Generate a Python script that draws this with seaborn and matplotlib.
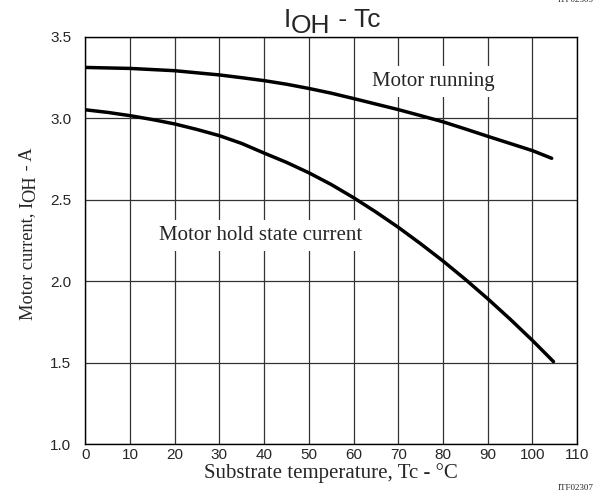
import pandas as pd
import matplotlib
matplotlib.use("Agg")
import matplotlib.pyplot as plt
import seaborn as sns

# -------- DATA --------
temp_running = [0, 10, 15, 20, 25, 30, 35, 40, 45, 50, 55, 60, 65, 70, 75, 80, 85, 90, 95, 100, 104.3]
current_running = [3.313, 3.307, 3.30, 3.293, 3.28, 3.267, 3.25, 3.232, 3.21, 3.184, 3.155, 3.122,
                   3.088, 3.054, 3.017, 2.979, 2.935, 2.89, 2.846, 2.802, 2.755]

temp_hold = [0, 5, 10, 15, 20, 25, 30, 35, 40, 45, 50, 55, 60, 65, 70, 75, 80, 85, 90, 95, 100, 104.7]
current_hold = [3.053, 3.037, 3.017, 2.993, 2.966, 2.932, 2.894, 2.846, 2.787, 2.73, 2.666, 2.594,
                2.513, 2.425, 2.331, 2.23, 2.124, 2.011, 1.892, 1.767, 1.636, 1.506]

x_ticks = list(range(0, 111, 10))
y_ticks = [1.0, 1.5, 2.0, 2.5, 3.0, 3.5]

df = pd.concat([
    pd.DataFrame({"Tc": temp_running, "IOH": current_running, "curve": "Motor running"}),
    pd.DataFrame({"Tc": temp_hold, "IOH": current_hold, "curve": "Motor hold state current"}),
], ignore_index=True)

# -------- PLOT --------
sns.set_style("white")
plt.rcParams["font.family"] = ["Liberation Sans", "DejaVu Sans"]
serif = ["Liberation Serif", "DejaVu Serif"]

fig = plt.figure(figsize=(6, 5), dpi=100)
ax = fig.add_axes([0.142, 0.112, 0.820, 0.814])

sns.lineplot(data=df, x="Tc", y="IOH", hue="curve", palette=["black", "black"],
             linewidth=2.5, legend=False, ax=ax, sort=False)

ax.set_xlim(0, 110)
ax.set_ylim(1.0, 3.5)
ax.set_xticks(x_ticks)
ax.set_yticks(y_ticks)
ax.set_xticklabels([str(t) for t in x_ticks])
ax.set_yticklabels([f"{t:.1f}" for t in y_ticks])
ax.tick_params(length=0, labelsize=11)
ax.tick_params(axis="x", pad=3)
ax.tick_params(axis="y", pad=10)
ax.grid(True, color="#333333", linewidth=0.9)
ax.set_axisbelow(True)
for s in ax.spines.values():
    s.set_color("black")
    s.set_linewidth(1.0)

ax.set_xlabel("Substrate temperature, Tc - °C", family=serif, fontsize=15, labelpad=1)
ax.set_ylabel("")

# Title "I_OH - Tc" with a full-size lowered subscript
t1 = fig.text(0.473, 0.946, "I", fontsize=19, ha="left", va="baseline")
t2 = fig.add_artist(plt.Annotation("OH", xy=(1, 0.946), xycoords=(t1, fig.transFigure),
                                   xytext=(0, -4.3), textcoords="offset points",
                                   fontsize=19, ha="left", va="baseline"))
fig.add_artist(plt.Annotation(" - Tc", xy=(1, 0.946), xycoords=(t2, fig.transFigure),
                              xytext=(0, 0), textcoords="offset points",
                              fontsize=19, ha="left", va="baseline"))

# Y label "Motor current, I_OH - A", rotated, same trick
ylx, yly = 0.053, 0.36
y1 = fig.text(ylx, yly, "Motor current, I", family=serif, fontsize=13.2, rotation=90,
              rotation_mode="anchor", ha="left", va="baseline")
y2 = fig.add_artist(plt.Annotation("OH", xy=(ylx, 1), xycoords=(fig.transFigure, y1),
                                   xytext=(2.5, 0), textcoords="offset points",
                                   family=serif, fontsize=13.2, rotation=90,
                                   rotation_mode="anchor", ha="left", va="baseline"))
fig.add_artist(plt.Annotation(" - A", xy=(ylx, 1), xycoords=(fig.transFigure, y2),
                              xytext=(0, 0), textcoords="offset points",
                              family=serif, fontsize=13.2, rotation=90,
                              rotation_mode="anchor", ha="left", va="baseline"))

box = dict(facecolor="white", edgecolor="none", pad=4)
ax.text(77.8, 3.227, "Motor running", family=serif, fontsize=15, ha="center", va="center", bbox=box)
ax.text(39.3, 2.28, "Motor hold state current", family=serif, fontsize=15, ha="center", va="center", bbox=box)

fig.text(0.99, 0.025, "ITF02307", family=serif, fontsize=6.5, ha="right", va="center")
fig.text(0.99, 1.0, "ITF02305", family=serif, fontsize=6.5, ha="right", va="center")

fig.savefig("out.png", dpi=100)
